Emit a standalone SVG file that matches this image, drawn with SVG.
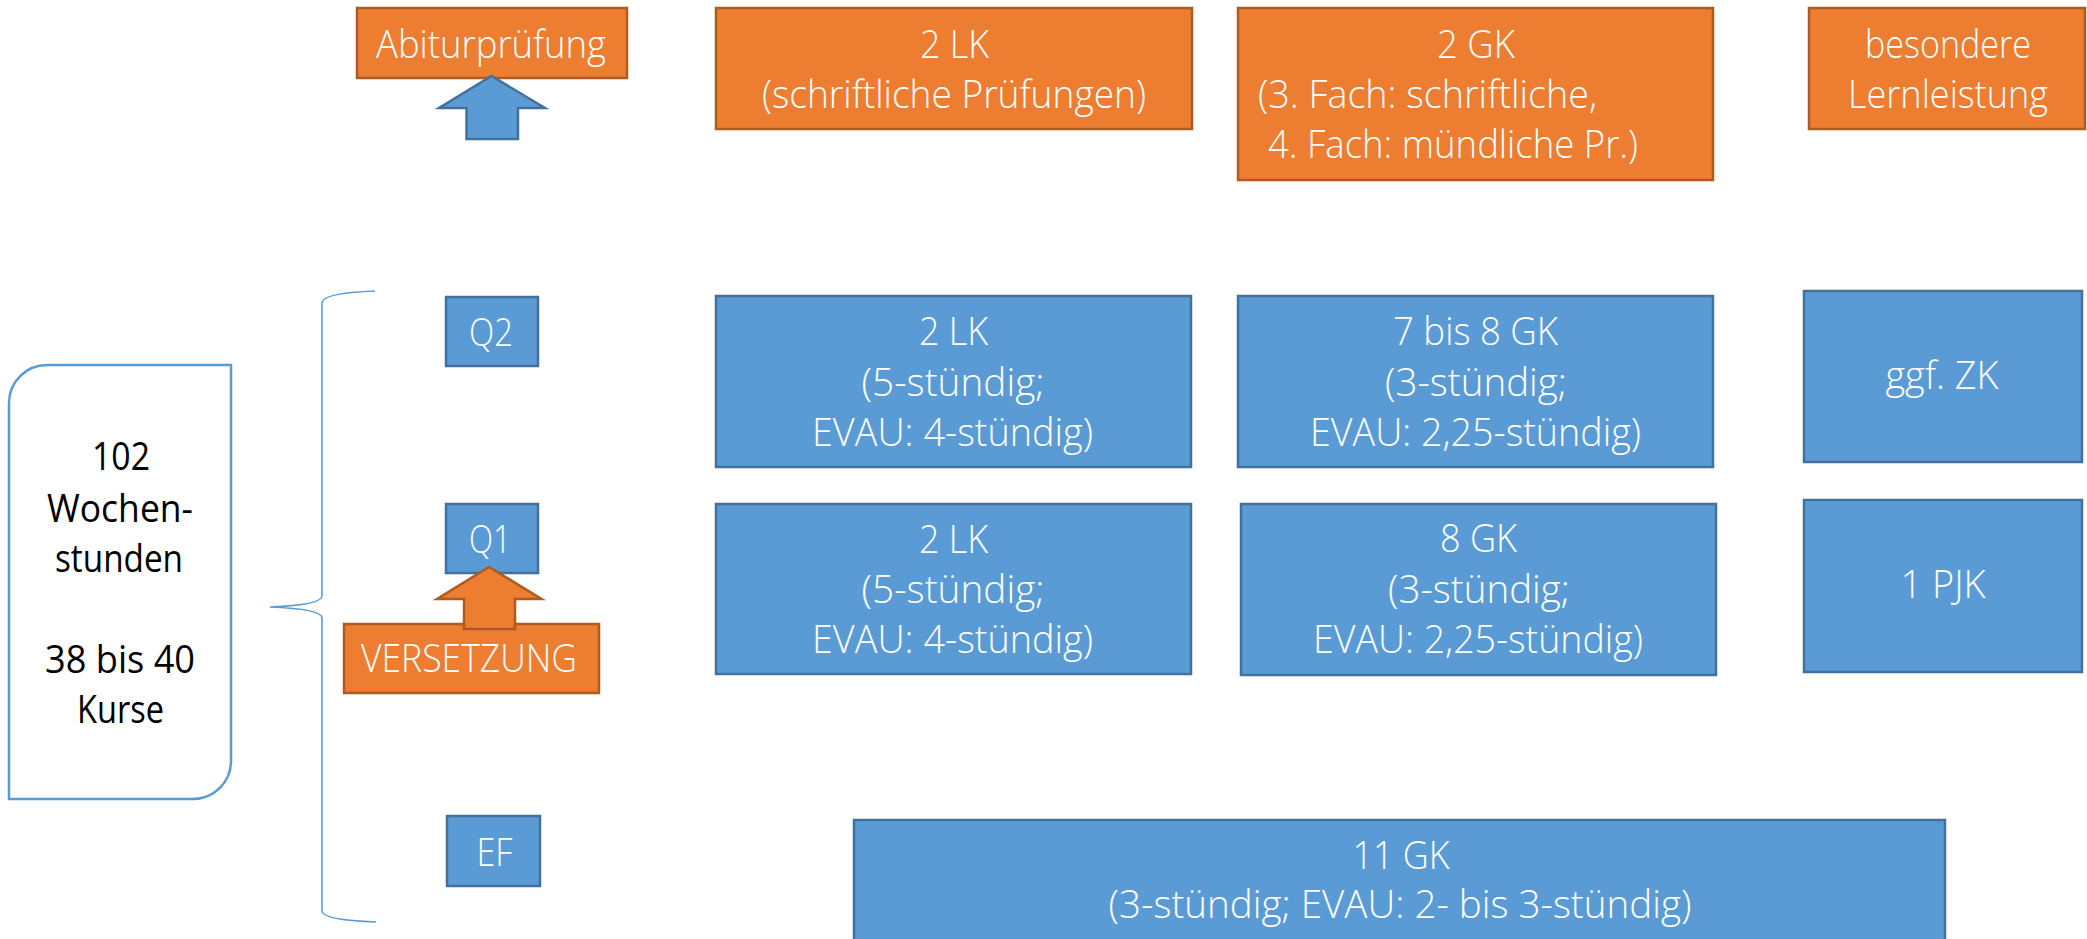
<svg xmlns="http://www.w3.org/2000/svg" width="2087" height="939" viewBox="0 0 2087 939">
<style>
  .or { fill:#ED7D31; stroke:#AE5A21; stroke-width:2.5; }
  .bl { fill:#5B9BD5; stroke:#41719C; stroke-width:2.5; }
  .t { font-family:"Open Sans","Noto Sans","Liberation Sans",sans-serif; font-size:39px; font-weight:350; fill:#FFFFFF; text-anchor:middle; }
  .ts { text-anchor:start; }
  .k { font-family:"Open Sans","Noto Sans","Liberation Sans",sans-serif; font-size:38px; font-weight:400; fill:#000000; text-anchor:middle; }
  .brace { fill:none; stroke:#5B9BD5; stroke-width:1.6; }
</style>
<rect width="2087" height="939" fill="#FFFFFF"/>

<g id="summary">
  <path d="M9,403 A38,38 0 0 1 47,365 L231,365 L231,761 A38,38 0 0 1 193,799 L9,799 Z" fill="#FFFFFF" stroke="#5B9BD5" stroke-width="2.5"/>
  <text class="k" x="121" y="470" textLength="58" lengthAdjust="spacingAndGlyphs">102</text>
  <text class="k" x="120" y="522" textLength="146" lengthAdjust="spacingAndGlyphs">Wochen-</text>
  <text class="k" x="119" y="572" textLength="128" lengthAdjust="spacingAndGlyphs">stunden</text>
  <text class="k" x="120" y="673" textLength="150" lengthAdjust="spacingAndGlyphs">38 bis 40</text>
  <text class="k" x="120.5" y="723" textLength="87" lengthAdjust="spacingAndGlyphs">Kurse</text>
</g>

<g id="connectors">
  <path class="brace" d="M375,291 Q322,293 322,303 L322,596 Q322,605 270,607 Q322,609 322,618 L322,911 Q322,920 376,922"/>
</g>

<g id="abitur">
  <rect class="or" x="357" y="8" width="270" height="70"/>
  <text class="t" x="491" y="58" textLength="230" lengthAdjust="spacingAndGlyphs">Abiturprüfung</text>
</g>
<g id="arrow-abitur">
  <polygon points="491.5,76 545,108 518,108 518,139 466.5,139 466.5,108 439,108" fill="#5B9BD5" stroke="#41719C" stroke-width="2.5" stroke-linejoin="miter"/>
</g>

<g id="pruef-lk">
  <rect class="or" x="716" y="8" width="476" height="121"/>
  <text class="t" x="954.5" y="58" textLength="69" lengthAdjust="spacingAndGlyphs">2 LK</text>
  <text class="t" x="954" y="108" textLength="384" lengthAdjust="spacingAndGlyphs">(schriftliche Prüfungen)</text>
</g>

<g id="pruef-gk">
  <rect class="or" x="1238" y="8" width="475" height="172"/>
  <text class="t ts" x="1437" y="58" textLength="78" lengthAdjust="spacingAndGlyphs">2 GK</text>
  <text class="t ts" x="1258" y="108" textLength="339" lengthAdjust="spacingAndGlyphs">(3. Fach: schriftliche,</text>
  <text class="t ts" x="1268" y="158" textLength="370" lengthAdjust="spacingAndGlyphs">4. Fach: mündliche Pr.)</text>
</g>

<g id="bll">
  <rect class="or" x="1809" y="8" width="276" height="121"/>
  <text class="t" x="1948" y="58" textLength="166" lengthAdjust="spacingAndGlyphs">besondere</text>
  <text class="t" x="1948" y="108" textLength="200" lengthAdjust="spacingAndGlyphs">Lernleistung</text>
</g>

<g id="q2">
  <rect class="bl" x="446" y="297" width="92" height="69"/>
  <text class="t" x="491" y="346" textLength="44" lengthAdjust="spacingAndGlyphs">Q2</text>
</g>

<g id="q2-lk">
  <rect class="bl" x="716" y="296" width="475" height="171"/>
  <text class="t" x="953.5" y="345" textLength="69" lengthAdjust="spacingAndGlyphs">2 LK</text>
  <text class="t" x="953" y="396" textLength="183" lengthAdjust="spacingAndGlyphs">(5-stündig;</text>
  <text class="t" x="952.5" y="446" textLength="281" lengthAdjust="spacingAndGlyphs">EVAU: 4-stündig)</text>
</g>

<g id="q2-gk">
  <rect class="bl" x="1238" y="296" width="475" height="171"/>
  <text class="t" x="1475.5" y="345" textLength="165" lengthAdjust="spacingAndGlyphs">7 bis 8 GK</text>
  <text class="t" x="1476" y="396" textLength="182" lengthAdjust="spacingAndGlyphs">(3-stündig;</text>
  <text class="t" x="1475.5" y="446" textLength="331" lengthAdjust="spacingAndGlyphs">EVAU: 2,25-stündig)</text>
</g>

<g id="q2-zk">
  <rect class="bl" x="1804" y="291" width="278" height="171"/>
  <text class="t" x="1942" y="389" textLength="113" lengthAdjust="spacingAndGlyphs">ggf. ZK</text>
</g>

<g id="q1">
  <rect class="bl" x="446" y="504" width="92" height="69"/>
  <text class="t" x="490" y="553" textLength="42" lengthAdjust="spacingAndGlyphs">Q1</text>
</g>

<g id="q1-lk">
  <rect class="bl" x="716" y="504" width="475" height="170"/>
  <text class="t" x="953.5" y="553" textLength="69" lengthAdjust="spacingAndGlyphs">2 LK</text>
  <text class="t" x="953" y="603" textLength="183" lengthAdjust="spacingAndGlyphs">(5-stündig;</text>
  <text class="t" x="952.5" y="653" textLength="281" lengthAdjust="spacingAndGlyphs">EVAU: 4-stündig)</text>
</g>

<g id="q1-gk">
  <rect class="bl" x="1241" y="504" width="475" height="171"/>
  <text class="t" x="1478.5" y="552" textLength="77" lengthAdjust="spacingAndGlyphs">8 GK</text>
  <text class="t" x="1479" y="603" textLength="182" lengthAdjust="spacingAndGlyphs">(3-stündig;</text>
  <text class="t" x="1478" y="653" textLength="330" lengthAdjust="spacingAndGlyphs">EVAU: 2,25-stündig)</text>
</g>

<g id="q1-pjk">
  <rect class="bl" x="1804" y="500" width="278" height="172"/>
  <text class="t" x="1943" y="598" textLength="85" lengthAdjust="spacingAndGlyphs">1 PJK</text>
</g>

<g id="versetzung">
  <rect class="or" x="344" y="624" width="255" height="69"/>
  <text class="t" x="469" y="672" textLength="216" lengthAdjust="spacingAndGlyphs">VERSETZUNG</text>
</g>
<g id="arrow-versetzung">
  <polygon points="489,567 541.5,599 515,599 515,629 464,629 464,599 437,599" fill="#ED7D31" stroke="#AE5A21" stroke-width="2.5" stroke-linejoin="miter"/>
</g>

<g id="ef">
  <rect class="bl" x="447" y="816" width="93" height="70"/>
  <text class="t" x="494.5" y="866" textLength="36" lengthAdjust="spacingAndGlyphs">EF</text>
</g>

<g id="ef-gk">
  <rect class="bl" x="854" y="820" width="1091" height="130"/>
  <text class="t" x="1401" y="869" textLength="97" lengthAdjust="spacingAndGlyphs">11 GK</text>
  <text class="t" x="1400" y="918" textLength="583" lengthAdjust="spacingAndGlyphs">(3-stündig; EVAU: 2- bis 3-stündig)</text>
</g>
</svg>
